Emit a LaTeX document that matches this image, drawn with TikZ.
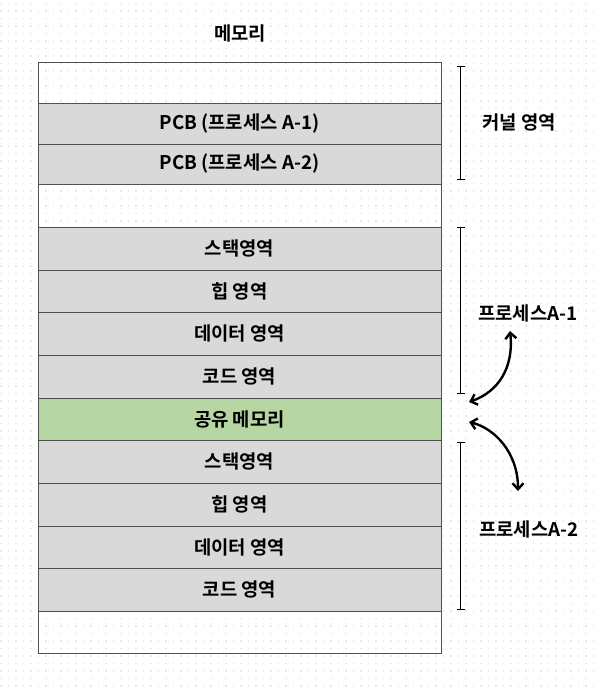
\documentclass[tikz,border=0pt]{standalone}
\usepackage{fontspec}
\newfontfamily\kr{Noto Sans CJK KR}[BoldFont={Noto Sans CJK KR Bold}]
\usetikzlibrary{arrows.meta}
\definecolor{rowgray}{HTML}{D9D9D9}
\definecolor{rowgreen}{HTML}{B6D7A3}
\definecolor{edgegray}{HTML}{505050}
\definecolor{dotgray}{HTML}{E8E8E8}
\tikzset{
  rowbox/.style={draw=edgegray, line width=0.9pt, minimum width=403pt, inner sep=0pt, outer sep=0pt,
    font=\kr\bfseries\fontsize{18.8}{20}\selectfont},
  grayrow/.style={rowbox, fill=rowgray},
  greenrow/.style={rowbox, fill=rowgreen},
  emptyrow/.style={rowbox},
  lbl/.style={font=\kr\bfseries\fontsize{18.8}{20}\selectfont, inner sep=1pt},
  brk/.style={line width=1.4pt, {Bar[width=8pt]}-{Bar[width=8pt]}},
  dbl/.style={line width=2.4pt, {Straight Barb[length=6pt,width=11pt]}-{Straight Barb[length=6pt,width=11pt]}},
}
\begin{document}
\begin{tikzpicture}[x=1pt,y=-1pt]
\useasboundingbox (0,0) rectangle (596,690);
\fill[white] (0,0) rectangle (596,690);
\foreach \yy in {3.5,11,...,690}{
  \draw[dotgray, line width=1.3pt, dash pattern=on 1.3pt off 6.2pt] (0.4,\yy) -- (596,\yy);
}
\node[lbl] (title) at (240,33) {메모리};
\node[emptyrow, minimum height=41pt] (r0) at (239.5,82.5) {};
\node[grayrow, minimum height=41pt] (pcb1) at (239.5,123.5) {PCB (프로세스 A-1)};
\node[grayrow, minimum height=40pt] (pcb2) at (239.5,164) {PCB (프로세스 A-2)};
\node[emptyrow, minimum height=43pt] (r3) at (239.5,205.5) {};
\node[grayrow, minimum height=43pt] (s1) at (239.5,248.5) {스택영역};
\node[grayrow, minimum height=42pt] (h1) at (239.5,291) {힙 영역};
\node[grayrow, minimum height=43pt] (d1) at (239.5,333.5) {데이터 영역};
\node[grayrow, minimum height=43pt] (c1) at (239.5,376.5) {코드 영역};
\node[greenrow, minimum height=42pt] (sh) at (239.5,419) {공유 메모리};
\node[grayrow, minimum height=43pt] (s2) at (239.5,461.5) {스택영역};
\node[grayrow, minimum height=43pt] (h2) at (239.5,504.5) {힙 영역};
\node[grayrow, minimum height=42pt] (d2) at (239.5,547) {데이터 영역};
\node[grayrow, minimum height=43pt] (c2) at (239.5,589.5) {코드 영역};
\node[emptyrow, minimum height=42pt] (r13) at (239.5,632) {};
% brackets
\coordinate (k1) at (460.7,66);
\coordinate (k2) at (460.7,180);
\coordinate (p1a) at (460.7,227);
\coordinate (p1b) at (460.7,394);
\coordinate (p2a) at (460.7,442);
\coordinate (p2b) at (460.7,610);
\draw[brk] (k1) -- (k2);
\draw[brk] (p1a) -- (p1b);
\draw[brk] (p2a) -- (p2b);
\node[lbl] (kern) at (519,122) {커널 영역};
\node[lbl] (pa1) at (528,313) {프로세스A-1};
\node[lbl] (pa2) at (529,529) {프로세스A-2};
% arrows
\coordinate (a1s) at (510,331);
\coordinate (a1e) at (469,402);
\coordinate (a2s) at (469,422);
\coordinate (a2e) at (518,491);
\draw[dbl] (a1s) .. controls (514,368) and (498,392) .. (a1e);
\draw[dbl] (a2s) .. controls (494,428) and (518,452) .. (a2e);
\end{tikzpicture}
\end{document}
